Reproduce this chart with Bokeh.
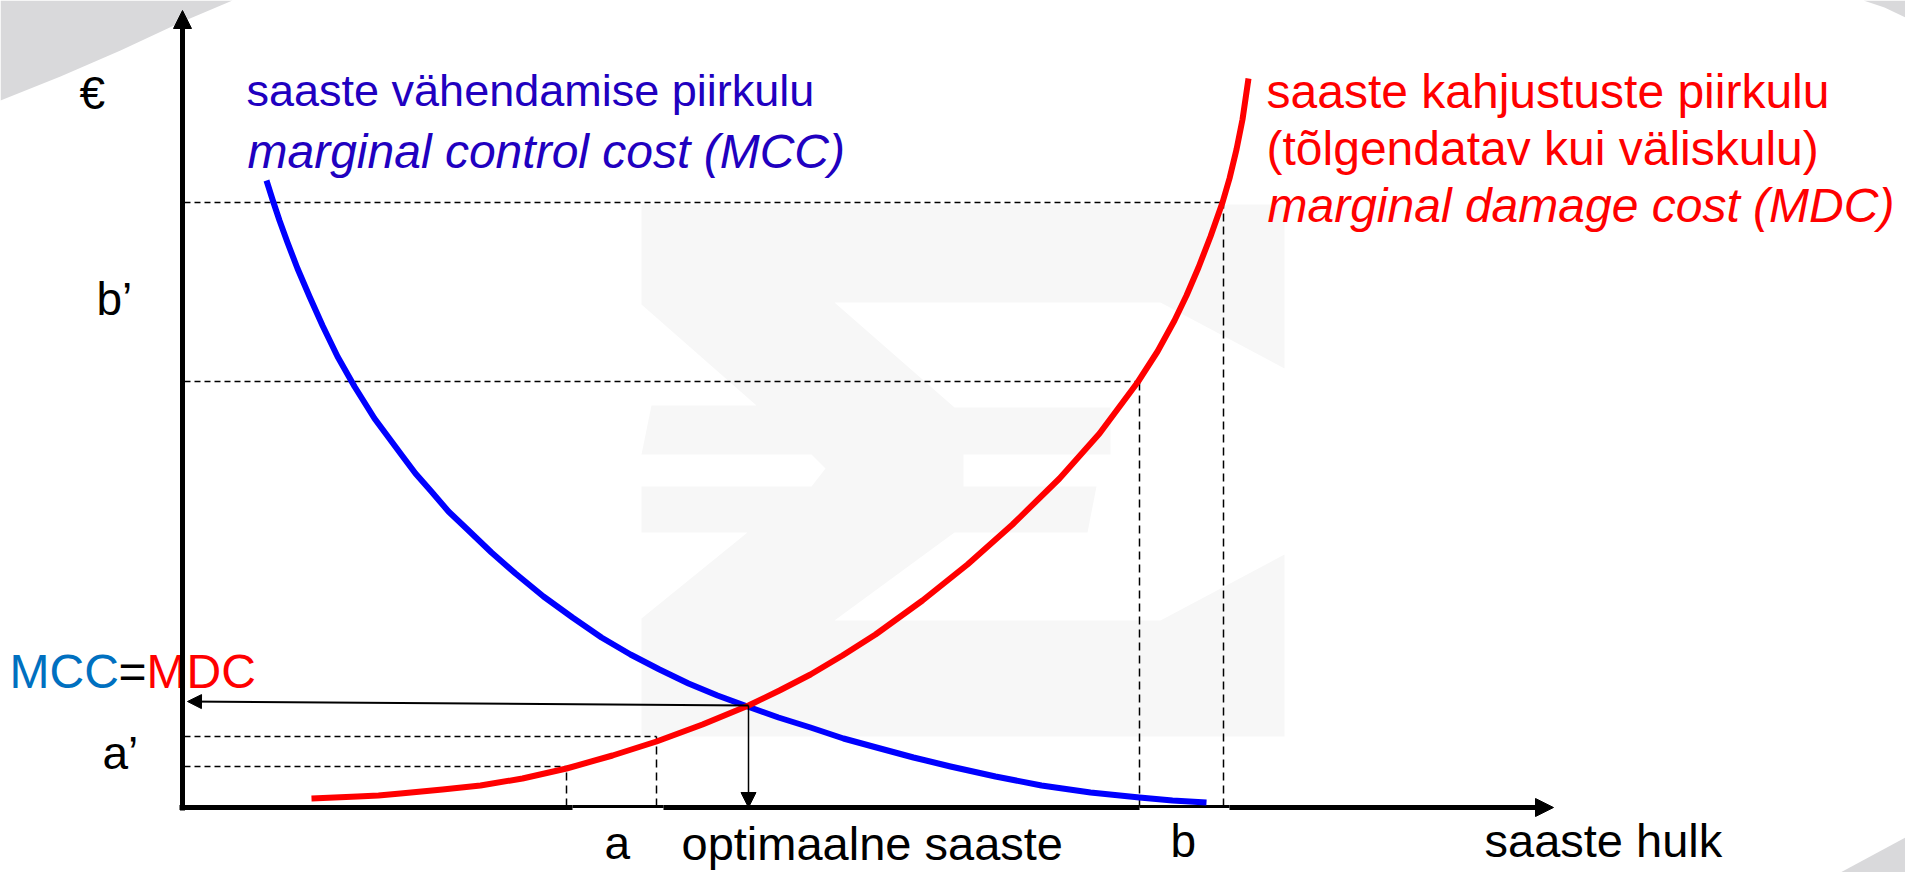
from bokeh.plotting import figure
from bokeh.models import Range1d, Arrow, NormalHead
from bokeh.core.properties import value
from bokeh.embed import file_html
from bokeh.resources import INLINE

# ---------------- data (abstract units: quantity / EUR) ----------------
mcc_x = [84, 90, 97, 105, 115, 127, 140, 155, 172, 192, 218, 233, 248, 266, 285,
         309, 333, 361, 390, 419, 448, 477, 506, 535, 565, 596, 628, 661, 694,
         731, 768, 813, 859, 908, 957, 990, 1024]
mcc_y = [626, 607, 586, 564, 538, 510, 481, 450, 420, 388, 353, 333, 316, 295, 277,
         254, 233, 210, 189, 169, 152, 137, 123, 111, 100, 89, 79, 68, 59,
         49, 40, 30, 21, 14, 9, 6, 4]

mdc_x = [129, 152, 175, 196, 218, 260, 298, 340, 384, 430, 474, 520, 566, 597,
         628, 660, 693, 740, 785, 830, 877, 917, 955, 975, 992, 1004, 1016, 1028,
         1040, 1047, 1054, 1060, 1066]
mdc_y = [8, 9, 10, 11, 13, 17, 21, 28, 38, 51, 65, 82, 101, 116,
         132, 151, 172, 206, 242, 282, 328, 373, 424, 455, 486, 511, 539, 570,
         604, 628, 657, 687, 728]

eq_x, eq_y = 566, 101          # MCC = MDC
a_q = [384, 474]               # interval a on quantity axis
a_c = [40, 70]                 # a'
b_q = [957, 1041]              # interval b
b_c = [425, 604]               # b'

x_axis_end = 1371
y_axis_end = 796

# ---------------- figure ----------------
W, H = 1905, 872
OX, OY = 182, 806   # page pixel of the origin


def sx(X):
    return X - OX


def sy(Y):
    return OY - Y


p = figure(width=W, height=H,
           x_range=Range1d(-OX, W - OX),
           y_range=Range1d(OY - H, OY),
           x_axis_type=None, y_axis_type=None,
           toolbar_location=None, output_backend="svg",
           min_border=0, outline_line_color=None,
           background_fill_color="white", border_fill_color="white")

# ---------------- background decoration ----------------
gray = "#D9D9DB"
tl = [(0, 0), (0, 100), (60, 76), (120, 50), (180, 22), (232, 0)]
tr = [(1863, 0), (1905, 0), (1905, 17), (1884, 7)]
br = [(1840, 872), (1905, 837), (1905, 872)]
for poly in (tl, tr, br):
    p.patch([sx(a) for a, b in poly], [sy(b) for a, b in poly],
            fill_color=gray, line_color=None)

wm = [(641, 204), (1284, 204), (1284, 368), (1160, 302), (834, 302), (954, 407),
      (1110, 407), (1110, 454), (963, 454), (963, 486), (1096, 486), (1087, 532),
      (954, 532), (834, 620), (1160, 620), (1284, 554), (1284, 736), (641, 736),
      (641, 618), (747, 532), (641, 532), (641, 486), (811, 486), (825, 468),
      (811, 454), (641, 454), (651, 405), (756, 405), (641, 304)]
p.patch([sx(a) for a, b in wm], [sy(b) for a, b in wm],
        fill_color="#F7F7F7", line_color=None)

# ---------------- dashed guide lines ----------------
hx = [2, 2, 2, 2]
hy = a_c + b_c
hx1 = a_q + b_q
p.segment(x0=hx, y0=hy, x1=hx1, y1=hy, line_color="black",
          line_width=1.5, line_dash="6 4")
p.segment(x0=a_q + b_q, y0=[0, 0, 0, 0], x1=a_q + b_q, y1=a_c + b_c,
          line_color="black", line_width=1.5, line_dash="8 5")

# ---------------- axes ----------------
thick_x0 = [-3, a_q[1] + 7, b_q[1] + 6]
thick_x1 = [a_q[0] + 6, b_q[0], x_axis_end - 16]
p.segment(x0=thick_x0, y0=[-1] * 3, x1=thick_x1, y1=[-1] * 3,
          line_color="black", line_width=5)
p.segment(x0=[a_q[0] + 6, b_q[0]], y0=[0, 0], x1=[a_q[1] + 7, b_q[1] + 6], y1=[0, 0],
          line_color="black", line_width=3)
p.add_layout(Arrow(end=NormalHead(size=18, fill_color="black", line_color="black", line_width=1),
                   x_start=x_axis_end - 20, y_start=-1, x_end=x_axis_end, y_end=-1,
                   line_width=5, line_color="black"))
p.add_layout(Arrow(end=NormalHead(size=18, fill_color="black", line_color="black", line_width=1),
                   x_start=0, y_start=-4, x_end=0, y_end=y_axis_end,
                   line_width=5, line_color="black"))

# ---------------- curves ----------------
p.line(mcc_x, mcc_y, line_color="#0000FF", line_width=6, line_join="round")
p.line(mdc_x, mdc_y, line_color="#FF0000", line_width=6, line_join="round")

# ---------------- equilibrium arrows ----------------
p.add_layout(Arrow(end=NormalHead(size=14, fill_color="black", line_color="black", line_width=1),
                   x_start=eq_x, y_start=eq_y, x_end=5, y_end=eq_y + 4,
                   line_width=2, line_color="black"))
p.add_layout(Arrow(end=NormalHead(size=15, fill_color="black", line_color="black", line_width=1),
                   x_start=eq_x, y_start=eq_y, x_end=eq_x, y_end=-1,
                   line_width=1.5, line_color="black"))

# ---------------- texts ----------------
FONT = value("Liberation Sans")


def txt(X, Y, s, color="black", size="46px", style="normal"):
    p.text(x=[sx(X)], y=[sy(Y)], text=[s], text_color=color,
           text_font=FONT, text_font_size=value(size), text_font_style=style,
           text_align="left", text_baseline="alphabetic")


txt(79, 92, "€")
txt(96, 298, "b’")
txt(102, 752, "a’")
txt(9, 671, "MCC", "#0070C0", "48px")
txt(118, 671, "=", "black", "48px")
txt(146, 671, "MDC", "#FF0000", "48px")
txt(604, 842, "a")
txt(681, 843, "optimaalne saaste", size="47px")
txt(1170, 840, "b")
txt(1484, 840, "saaste hulk", size="47px")

blue_t = "#2000C0"
txt(246, 90, "saaste vähendamise piirkulu", blue_t, "45px")
txt(247, 151, "marginal control cost (MCC)", blue_t, "48px", "italic")

txt(1266, 91, "saaste kahjustuste piirkulu", "#FF0000", "48px")
txt(1266, 148, "(tõlgendatav kui väliskulu)", "#FF0000", "48px")
txt(1267, 205, "marginal damage cost (MDC)", "#FF0000", "48px", "italic")

open("out.html", "w").write(file_html(p, INLINE))
